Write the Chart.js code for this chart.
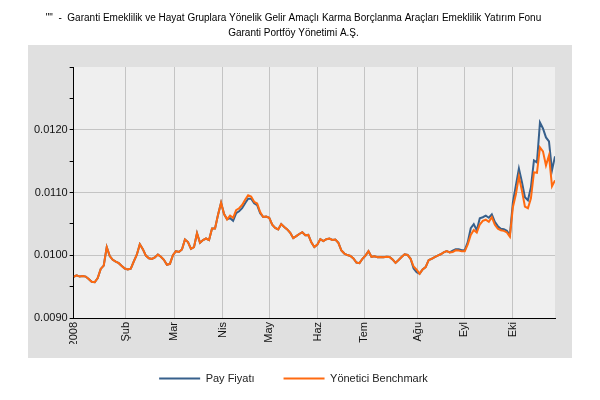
<!DOCTYPE html>
<html>
<head>
<meta charset="utf-8">
<script src="https://cdn.jsdelivr.net/npm/chart.js@4.4.1/dist/chart.umd.min.js"></script>
<style>
  body { margin: 0; background: #fff; }
</style>
</head>
<body>
<canvas id="fundChart" width="600" height="400"></canvas>
<script>
// month ticks (position in trading-day index) and their labels
var monthLabels = ["2008", "Şub", "Mar", "Nis", "May", "Haz", "Tem", "Ağu", "Eyl", "Eki"];
var monthPos = [0, 17.4, 33.4, 49.5, 65.0, 81.1, 96.6, 114.4, 129.9, 145.9];

var seriesNames = ["Pay Fiyatı", "Yönetici Benchmark"];

var fundValues = [
  0.009657, 0.009679, 0.009660, 0.009668, 0.009660, 0.009620, 0.009576, 0.009569, 0.009636, 0.009782,
  0.009835, 0.010129, 0.009986, 0.009928, 0.009897, 0.009874, 0.009830, 0.009789, 0.009774, 0.009787,
  0.009903, 0.010008, 0.010176, 0.010097, 0.009995, 0.009951, 0.009941, 0.009965, 0.010010, 0.009976,
  0.009928, 0.009849, 0.009863, 0.010002, 0.010065, 0.010052, 0.010092, 0.010251, 0.010211, 0.010103,
  0.010130, 0.010351, 0.010199, 0.010243, 0.010267, 0.010242, 0.010426, 0.010426, 0.010647, 0.010836,
  0.010657, 0.010572, 0.010591, 0.010550, 0.010669, 0.010701, 0.010749, 0.010828, 0.010900, 0.010900,
  0.010828, 0.010797, 0.010669, 0.010610, 0.010617, 0.010598, 0.010486, 0.010437, 0.010412, 0.010496,
  0.010451, 0.010412, 0.010359, 0.010273, 0.010304, 0.010339, 0.010367, 0.010320, 0.010324, 0.010205,
  0.010132, 0.010169, 0.010258, 0.010227, 0.010256, 0.010267, 0.010243, 0.010250, 0.010197, 0.010075,
  0.010027, 0.010003, 0.009989, 0.009948, 0.009884, 0.009874, 0.009944, 0.009994, 0.010064, 0.009975,
  0.009983, 0.009970, 0.009971, 0.009970, 0.009976, 0.009973, 0.009933, 0.009878, 0.009924, 0.009973,
  0.010016, 0.010005, 0.009943, 0.009787, 0.009731, 0.009706, 0.009773, 0.009811, 0.009922, 0.009944,
  0.009971, 0.009995, 0.010016, 0.010046, 0.010065, 0.010046, 0.010073, 0.010097, 0.010097, 0.010081,
  0.010081, 0.010208, 0.010431, 0.010494, 0.010399, 0.010590, 0.010606, 0.010630, 0.010598, 0.010653,
  0.010531, 0.010463, 0.010423, 0.010415, 0.010391, 0.010320, 0.010844, 0.011114, 0.011380, 0.011167,
  0.010924, 0.010876, 0.011083, 0.011512, 0.011480, 0.012116, 0.012021, 0.011878, 0.011814, 0.011353,
  0.011576
];

var benchValues = [
  0.009657, 0.009679, 0.009660, 0.009668, 0.009660, 0.009620, 0.009576, 0.009569, 0.009636, 0.009782,
  0.009835, 0.010129, 0.009986, 0.009928, 0.009897, 0.009874, 0.009830, 0.009789, 0.009774, 0.009787,
  0.009903, 0.010008, 0.010176, 0.010097, 0.009995, 0.009951, 0.009941, 0.009965, 0.010010, 0.009976,
  0.009928, 0.009849, 0.009863, 0.010002, 0.010065, 0.010052, 0.010092, 0.010251, 0.010211, 0.010103,
  0.010130, 0.010351, 0.010199, 0.010243, 0.010267, 0.010242, 0.010426, 0.010426, 0.010647, 0.010836,
  0.010657, 0.010572, 0.010633, 0.010596, 0.010717, 0.010749, 0.010800, 0.010884, 0.010955, 0.010935,
  0.010852, 0.010824, 0.010688, 0.010610, 0.010617, 0.010598, 0.010486, 0.010437, 0.010412, 0.010496,
  0.010451, 0.010412, 0.010359, 0.010273, 0.010304, 0.010339, 0.010367, 0.010320, 0.010324, 0.010205,
  0.010132, 0.010169, 0.010258, 0.010227, 0.010256, 0.010267, 0.010243, 0.010250, 0.010197, 0.010075,
  0.010027, 0.010003, 0.009989, 0.009948, 0.009884, 0.009874, 0.009944, 0.009994, 0.010064, 0.009975,
  0.009983, 0.009970, 0.009971, 0.009970, 0.009976, 0.009973, 0.009933, 0.009878, 0.009924, 0.009973,
  0.010016, 0.010005, 0.009943, 0.009820, 0.009769, 0.009706, 0.009773, 0.009811, 0.009922, 0.009944,
  0.009971, 0.009995, 0.010016, 0.010046, 0.010065, 0.010046, 0.010052, 0.010078, 0.010075, 0.010062,
  0.010062, 0.010173, 0.010323, 0.010402, 0.010361, 0.010490, 0.010548, 0.010566, 0.010534, 0.010606,
  0.010485, 0.010424, 0.010399, 0.010389, 0.010364, 0.010294, 0.010765, 0.010971, 0.011258, 0.011030,
  0.010776, 0.010750, 0.010908, 0.011321, 0.011313, 0.011719, 0.011655, 0.011432, 0.011591, 0.011099,
  0.011194
];

var dayIndex = fundValues.map(function(v, i) { return i; });

// gray panel behind the axes, lighter plot area
var panelBg = {
  id: "panelBg",
  beforeDraw: function(chart) {
    var ctx = chart.ctx, a = chart.chartArea;
    ctx.save();
    ctx.fillStyle = "#ffffff";
    ctx.fillRect(0, 0, chart.width, chart.height);
    ctx.fillStyle = "#e0e0e0";
    ctx.fillRect(28, 45, 544, 313);
    ctx.fillStyle = "#efefef";
    ctx.fillRect(a.left, a.top, a.right - a.left, a.bottom - a.top);
    ctx.restore();
  }
};

function isMajor(v) {
  var k = Math.round(v * 10000);
  return k % 10 === 0 && k < 130 && k > 90;
}

new Chart("fundChart", {
  type: "line",
  data: {
    labels: dayIndex,
    datasets: [{
      label: seriesNames[0],
      data: fundValues,
      borderColor: "#37608c",
      backgroundColor: "#37608c",
      borderWidth: 2,
      pointRadius: 0,
      order: 1
    }, {
      label: seriesNames[1],
      data: benchValues,
      borderColor: "#ff6a10",
      backgroundColor: "#ff6a10",
      borderWidth: 2,
      pointRadius: 0,
      order: 0
    }]
  },
  plugins: [panelBg],
  options: {
    responsive: false,
    animation: false,
    layout: {padding: {left: 32, right: 45, top: 0, bottom: 6}},
    plugins: {
      title: {
        display: true,
        text: ["\"\"  -  Garanti Emeklilik ve Hayat Gruplara Yönelik Gelir Amaçlı Karma Borçlanma Araçları Emeklilik Yatırım Fonu",
               "Garanti Portföy Yönetimi A.Ş."],
        color: "#000",
        font: {family: "Liberation Sans", size: 10, weight: "normal", lineHeight: 1.5},
        padding: {top: 11, bottom: 26}
      },
      legend: {
        position: "bottom",
        labels: {
          sort: function(a, b) { return a.datasetIndex - b.datasetIndex; },
          usePointStyle: true,
          pointStyle: "line",
          pointStyleWidth: 41,
          padding: 29,
          color: "#222",
          font: {family: "Liberation Sans", size: 11}
        }
      },
      tooltip: {enabled: false}
    },
    scales: {
      x: {
        type: "linear",
        min: 0,
        max: dayIndex.length - 1,
        afterBuildTicks: function(scale) {
          scale.ticks = monthPos.map(function(p) { return {value: p}; });
        },
        afterFit: function(scale) { scale.height = 26; },
        grid: {color: "#c4c4c4", drawTicks: false},
        border: {color: "#000", width: 1},
        ticks: {
          autoSkip: false,
          minRotation: 90,
          maxRotation: 90,
          padding: 4,
          color: "#111",
          font: {family: "Liberation Sans", size: 11},
          callback: function(value, index) { return monthLabels[index]; }
        }
      },
      y: {
        min: 0.009,
        max: 0.013,
        grid: {
          color: function(ctx) { return ctx.tick && isMajor(ctx.tick.value) ? "#c4c4c4" : "rgba(0,0,0,0)"; },
          tickColor: "#000",
          tickLength: 4
        },
        border: {color: "#000", width: 1},
        ticks: {
          stepSize: 0.0005,
          padding: 2,
          color: "#111",
          font: {family: "Liberation Sans", size: 11},
          callback: function(value) {
            var k = Math.round(value * 10000);
            return (k % 10 === 0 && k < 130) ? value.toFixed(4) : "";
          }
        }
      }
    }
  }
});
</script>
</body>
</html>
